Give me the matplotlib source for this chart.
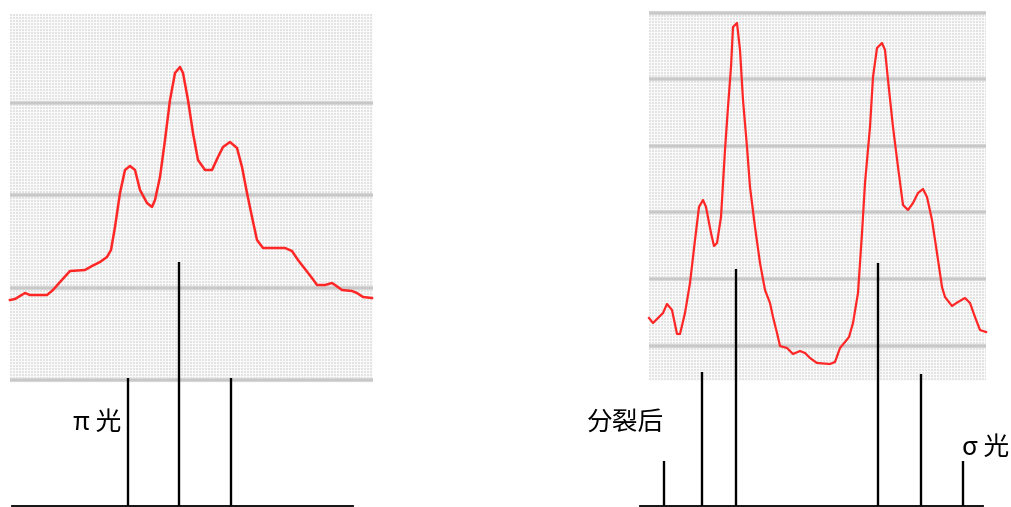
import numpy as np
import matplotlib.pyplot as plt

plt.rcParams['font.family'] = ['Noto Sans CJK SC', 'DejaVu Sans']

W, H = 1012, 507

# spectrum traces (x, y in picture pixels, y grows downwards)
left_x = [10, 15, 20, 25, 30, 47, 53, 60, 70, 85, 92, 100, 107, 111, 115, 120, 125, 130,
          135, 140, 147, 152, 155, 160, 165, 170, 175, 180, 183, 188, 193, 198, 205, 212,
          218, 223, 230, 237, 242, 247, 252, 257, 263, 285, 292, 298, 305, 312, 317, 325,
          332, 335, 342, 352, 357, 363, 372]
left_y = [300, 299, 296, 293, 295, 295, 290, 282, 271, 270, 266, 262, 257, 250, 227, 193,
          170, 166, 170, 190, 203, 207, 200, 177, 140, 100, 73, 67, 73, 100, 133, 160, 170,
          170, 157, 147, 142, 148, 167, 193, 217, 240, 248, 248, 251, 260, 269, 278, 285,
          285, 283, 285, 290, 291, 293, 297, 298]

right_x = [649, 653, 658, 663, 667, 672, 677, 680, 685, 690, 695, 699, 703, 706, 711, 714,
           717, 721, 725, 728, 731, 733, 737, 740, 743, 747, 750, 755, 760, 765, 770, 773,
           777, 780, 787, 793, 800, 805, 810, 817, 830, 835, 840, 845, 849, 853, 858, 862,
           865, 870, 873, 877, 882, 885, 888, 893, 898, 903, 908, 913, 918, 923, 927, 932,
           937, 942, 945, 952, 958, 965, 970, 975, 980, 986]
right_y = [318, 323, 318, 313, 304, 310, 334, 334, 313, 283, 240, 207, 200, 207, 233, 246,
           243, 217, 150, 107, 67, 27, 23, 50, 100, 147, 187, 227, 263, 290, 303, 317, 333,
           346, 348, 354, 351, 353, 358, 363, 364, 362, 348, 342, 337, 323, 293, 233, 183,
           127, 77, 48, 43, 50, 80, 127, 167, 205, 210, 203, 193, 189, 197, 220, 253, 287,
           297, 306, 302, 298, 303, 317, 330, 332]

# split component lines: position and top end
pi_lines_x = [128, 179, 231]
pi_lines_top = [378, 262, 378]
sigma_lines_x = [664, 702, 736, 878, 921, 963]
sigma_lines_top = [461, 372, 269, 263, 374, 461]
base_y = 506

# panels: x0, x1, y0, y1 and gray rule rows
left_panel = (10, 373, 14, 381)
left_rules = [103, 195, 288, 380]
right_panel = (649, 986, 12, 381)
right_rules = [13, 79, 146, 212, 279, 346]

fig = plt.figure(figsize=(W / 100, H / 100), dpi=100)
ax = fig.add_axes([0, 0, 1, 1])
ax.set_xlim(0, W)
ax.set_ylim(H, 0)
ax.axis('off')


def dotted_bg(panel):
    x0, x1, y0, y1 = panel
    w, h = x1 - x0, y1 - y0
    jj, ii = np.meshgrid(np.arange(w), np.arange(h))
    img = np.where((ii % 3 != 2) & (jj % 3 != 2), 0.89, 0.98)
    ax.imshow(img, cmap='gray', vmin=0, vmax=1, extent=(x0, x1, y1, y0),
              interpolation='nearest', aspect='auto', zorder=0)


for panel, rules in [(left_panel, left_rules), (right_panel, right_rules)]:
    dotted_bg(panel)
    for r in rules:
        ax.plot([panel[0], panel[1]], [r, r], color='#d6d6d6', lw=3.0,
                solid_capstyle='butt', zorder=1)
        ax.plot([panel[0], panel[1]], [r, r], color='#c6c6c6', lw=1.2,
                solid_capstyle='butt', zorder=1)

ax.plot(left_x, left_y, color='#ff2626', lw=1.8, solid_joinstyle='round', zorder=3)
ax.plot(right_x, right_y, color='#ff2626', lw=1.6, solid_joinstyle='round', zorder=3)

ax.vlines(pi_lines_x, pi_lines_top, base_y, color='black', lw=1.7, zorder=4)
ax.vlines(sigma_lines_x, sigma_lines_top, base_y, color='black', lw=1.7, zorder=4)
ax.plot([12, 353], [base_y, base_y], color='black', lw=1.3)
ax.plot([640, 983], [base_y, base_y], color='black', lw=1.3)

ax.text(121, 423, 'π 光', fontsize=18.5, ha='right', va='center')
ax.text(587, 423, '分裂后', fontsize=18.5, ha='left', va='center')
ax.text(962, 448, 'σ 光', fontsize=18.5, ha='left', va='center')

fig.savefig('out.png', dpi=100)
